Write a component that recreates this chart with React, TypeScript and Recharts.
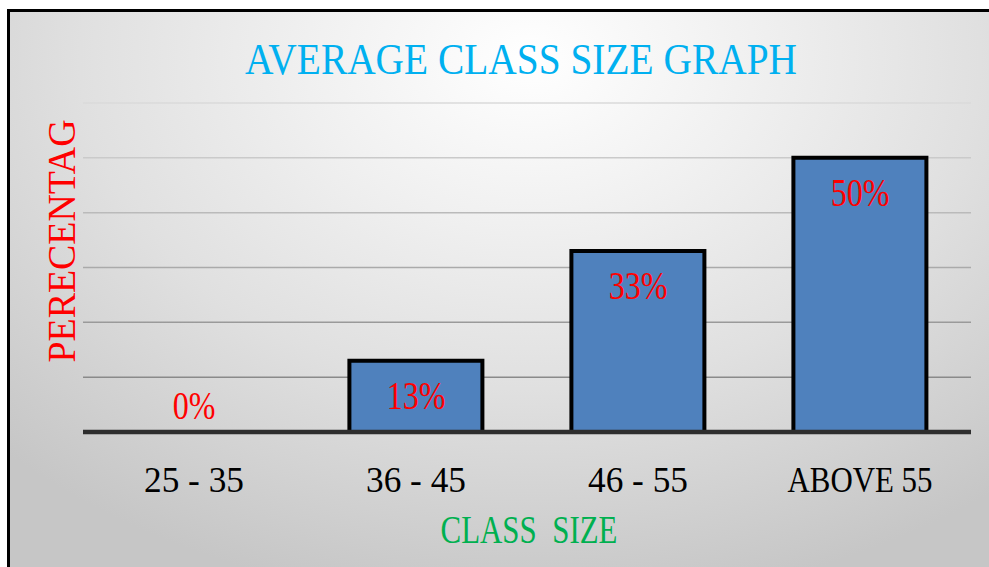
import { ComposedChart, Bar, Line, XAxis, YAxis, CartesianGrid, LabelList } from "recharts";

const categories = ["25 - 35", "36 - 45", "46 - 55", "ABOVE 55"];
const percentages = [0, 13, 33, 50];
const yTicks = [0, 10, 20, 30, 40, 50, 60];

const TITLE = "AVERAGE CLASS SIZE GRAPH";
const Y_LABEL = "PERECENTAG";
const X_LABEL = "CLASS  SIZE";

const SERIF = "'Liberation Serif', 'Times New Roman', serif";

// rendered widths of the tick labels in the original (they are squeezed a bit)
const tickWidths: Record<string, number> = {
  "25 - 35": 100,
  "36 - 45": 100,
  "46 - 55": 100,
  "ABOVE 55": 145,
};

const data = categories.map((c, i) => ({ name: c, value: percentages[i] }));

// eslint-disable-next-line @typescript-eslint/no-explicit-any
function CategoryTick({ x, y, payload }: any) {
  const w = tickWidths[payload.value];
  return (
    <text
      x={x}
      y={y + 52}
      textAnchor="middle"
      fontFamily={SERIF}
      fontSize={36}
      fill="#000"
      textLength={w}
      lengthAdjust="spacingAndGlyphs"
    >
      {payload.value}
    </text>
  );
}

// labels hang off an invisible line so the zero bar still gets one
// eslint-disable-next-line @typescript-eslint/no-explicit-any
function ValueLabel({ x, y, value }: any) {
  // zero bar: label sits just above the axis, otherwise inside near the top
  const by = value === 0 ? y - 13 : y + 48;
  return (
    <text
      transform={`translate(${x},${by}) scale(0.8,1)`}
      textAnchor="middle"
      fontFamily={SERIF}
      fontSize={40}
      fill="#ff0000"
    >
      {value}%
    </text>
  );
}

export default function App() {
  return (
    <div
      style={{
        position: "fixed",
        left: 0,
        top: 0,
        width: 989,
        height: 567,
        background: "#fff",
        overflow: "hidden",
      }}
    >
      {/* framed plot area with radial shading */}
      <div
        style={{
          position: "absolute",
          left: 7,
          top: 9,
          width: 1000,
          height: 580,
          borderLeft: "3px solid #000",
          borderTop: "3px solid #000",
          background:
            "radial-gradient(ellipse 75% 95% at 52% 8%, #ffffff 0%, #f0f0f0 30%, #e0e0e0 60%, #c6c6c6 100%)",
        }}
      />

      <div style={{ position: "absolute", left: 0, top: 0 }}>
        <ComposedChart
          width={989}
          height={567}
          data={data}
          margin={{ top: 103, right: 18, left: 83, bottom: 75 }}
          barCategoryGap="20%"
        >
          <defs>
            <linearGradient id="gridGrad" gradientUnits="userSpaceOnUse" x1="0" y1="103" x2="0" y2="377">
              <stop offset="0%" stopColor="#dadada" />
              <stop offset="100%" stopColor="#8a8a8a" />
            </linearGradient>
          </defs>
          <CartesianGrid vertical={false} stroke="url(#gridGrad)" strokeWidth={1.5} />
          <YAxis hide domain={[0, 60]} ticks={yTicks} />
          <XAxis
            dataKey="name"
            height={60}
            tickLine={false}
            axisLine={{ stroke: "#2e2e2e", strokeWidth: 4.5 }}
            tick={<CategoryTick />}
            interval={0}
          />
          <Bar
            dataKey="value"
            fill="#4f81bd"
            stroke="#000"
            strokeWidth={4}
            isAnimationActive={false}
          />
          <Line
            dataKey="value"
            stroke="none"
            dot={false}
            activeDot={false}
            isAnimationActive={false}
          >
            <LabelList dataKey="value" content={<ValueLabel />} />
          </Line>
        </ComposedChart>
      </div>

      {/* title and axis titles */}
      <svg
        width={989}
        height={567}
        style={{ position: "absolute", left: 0, top: 0, pointerEvents: "none" }}
      >
        <text
          x={521}
          y={74}
          textAnchor="middle"
          fontFamily={SERIF}
          fontSize={45}
          fill="#00b0f0"
          textLength={552}
          lengthAdjust="spacingAndGlyphs"
        >
          {TITLE}
        </text>
        <text
          transform="translate(75,241) rotate(-90)"
          textAnchor="middle"
          fontFamily={SERIF}
          fontSize={40}
          fill="#ff0000"
          textLength={243}
          lengthAdjust="spacingAndGlyphs"
        >
          {Y_LABEL}
        </text>
        <text
          x={529}
          y={543}
          textAnchor="middle"
          fontFamily={SERIF}
          fontSize={41}
          fill="#00b050"
          textLength={177}
          lengthAdjust="spacingAndGlyphs"
          style={{ whiteSpace: "pre" }}
        >
          {X_LABEL}
        </text>
      </svg>
    </div>
  );
}
